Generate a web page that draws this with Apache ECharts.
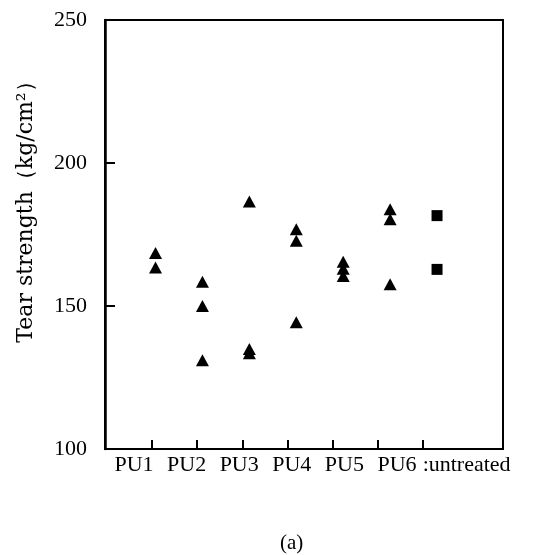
<!DOCTYPE html>
<html>
<head>
<meta charset="utf-8">
<script src="https://cdn.jsdelivr.net/npm/echarts@6/dist/echarts.min.js"></script>
<style>
  html, body { margin: 0; padding: 0; background: #fff; }
  #chart { width: 548px; height: 555px; }
</style>
</head>
<body>
<div id="chart"></div>
<script>
// categories on the x axis
var categories = ['PU1', 'PU2', 'PU3', 'PU4', 'PU5', 'PU6', ':untreated'];
// tear strength values (kg/cm2)
var pu1 = [168.5, 163.5];
var pu2 = [158.5, 150, 131];
var pu3 = [186.5, 135, 133.5];
var pu4 = [176.8, 172.8, 144.3];
var pu5 = [165.5, 163, 160.5];
var pu6 = [183.8, 180.3, 157.6];
var untreated = [181.6, 162.8];
var yTicks = [100, 150, 200, 250];

var font = "'Liberation Serif', 'DejaVu Serif', serif";

//turn the groups into [x, y] points, x = category number
var toPoints = function (groups) {
    var pts = [];
    groups.forEach(function (g) {
        g.vals.forEach(function (v) {
            pts.push([g.idx, v]);
        });
    });
    return pts;
};
var triData = toPoints([
    {idx: 1, vals: pu1}, {idx: 2, vals: pu2}, {idx: 3, vals: pu3},
    {idx: 4, vals: pu4}, {idx: 5, vals: pu5}, {idx: 6, vals: pu6}
]);
var sqData = toPoints([{idx: 7, vals: untreated}]);
var catIdx = categories.map(function (c, i) { return i + 1; });

var chart = echarts.init(document.getElementById('chart'));
var option = {
    animation: false,
    backgroundColor: '#fff',
    title: {
        text: '(a)',
        left: 275,
        bottom: -4,
        textStyle: { fontFamily: font, fontSize: 21, fontWeight: 'normal', color: '#000' }
    },
    grid: {
        left: 105, right: 45, top: 20, bottom: 106,
        show: true, borderColor: '#000', borderWidth: 2
    },
    xAxis: [
        {
            // axis the markers sit on
            type: 'value', min: -0.077, max: 8.406, show: false
        },
        {
            // bottom line and its ticks
            type: 'value', min: -0.04, max: 8.77, position: 'bottom',
            axisLine: { show: true, onZero: false, lineStyle: { color: '#000', width: 2 } },
            axisTick: { show: true, inside: true, length: 9, customValues: catIdx,
                lineStyle: { color: '#000', width: 2 } },
            axisLabel: { show: false },
            splitLine: { show: false }
        },
        {
            // category names
            type: 'value', min: 0.449, max: 8.015, position: 'bottom',
            axisLine: { show: false },
            axisTick: { show: false },
            splitLine: { show: false },
            axisLabel: {
                customValues: catIdx,
                margin: 5,
                color: '#000',
                fontFamily: font,
                fontSize: 22,
                formatter: function (v) {
                    var name = categories[Math.round(v) - 1];
                    return v == 7 ? '{u|' + name + '}' : name;
                },
                rich: {
                    u: { fontFamily: font, fontSize: 22, color: '#000', padding: [0, 0, 0, 34] }
                }
            }
        }
    ],
    yAxis: {
        type: 'value', min: yTicks[0], max: yTicks[yTicks.length - 1], interval: 50,
        name: 'Tear strength（kg/cm²）',
        nameLocation: 'middle',
        nameRotate: 90,
        nameGap: 68,
        nameTextStyle: { fontFamily: "'DejaVu Serif', serif", fontSize: 22, color: '#000', padding: [0, 0, 0, 56] },
        axisLine: { show: true, onZero: false, lineStyle: { color: '#000', width: 2.5 } },
        axisTick: { show: true, inside: true, length: 10, lineStyle: { color: '#000', width: 2 } },
        axisLabel: { color: '#000', fontFamily: font, fontSize: 22, margin: 18 },
        splitLine: { show: false }
    },
    series: [
        {
            name: 'PU',
            type: 'scatter',
            xAxisIndex: 0,
            symbol: 'triangle',
            symbolSize: [13, 12],
            itemStyle: { color: '#000', opacity: 1 },
            data: triData
        },
        {
            name: 'untreated',
            type: 'scatter',
            xAxisIndex: 0,
            symbol: 'rect',
            symbolSize: 11,
            itemStyle: { color: '#000', opacity: 1 },
            data: sqData
        }
    ]
};
chart.setOption(option);
</script>
</body>
</html>
